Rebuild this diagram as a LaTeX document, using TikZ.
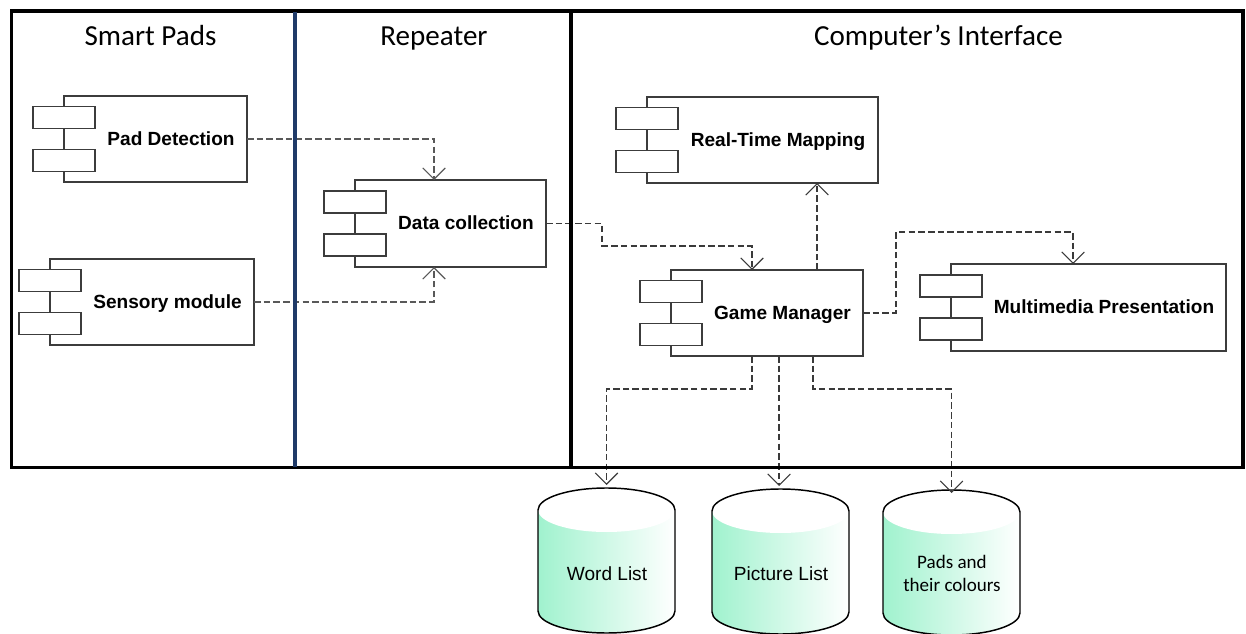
\documentclass[tikz,border=0pt]{standalone}
\usepackage{fontspec}
\setmainfont{Carlito}
\newfontfamily\arialf{Liberation Sans}
\newfontfamily\calf{Carlito}
\usetikzlibrary{calc,arrows.meta}

\definecolor{compline}{HTML}{3C3C3C}
\definecolor{laneblue}{HTML}{1F3A68}
\definecolor{mint}{RGB}{160,242,206}
\definecolor{connline}{HTML}{3A3A3A}

\tikzset{
  compbox/.style={draw=compline, line width=0.9pt, fill=white, inner sep=0pt, outer sep=0pt},
  comptext/.style={font=\arialf\bfseries\fontsize{14.3}{17}\selectfont, inner sep=0pt, anchor=base},
  lanetitle/.style={font=\calf\fontsize{21.8}{26}\selectfont, inner sep=0pt, anchor=base},
  conn/.style={draw=connline, line width=0.8pt, dash pattern=on 4.9pt off 2.4pt,
    -{Straight Barb[length=8.5pt,width=17pt,line width=0.8pt]}},
  storefill/.style={left color=mint, right color=white},
  storeline/.style={draw=black, line width=1.1pt},
  storetext/.style={font=\arialf\fontsize{14.3}{17}\selectfont, inner sep=0pt},
  frameline/.style={draw=black, line width=2.6pt},
}

% UML-style component: box, two port tabs on the left edge, centred label
\newcommand{\component}[6]{% name, cx, cy, width, height, label
  \node[compbox, minimum width={#4*0.75pt}, minimum height={#5*0.75pt}] (#1) at (#2,#3) {};
  \draw[compbox] ($(#1.west)+(-31,-32.5)$) rectangle ($(#1.west)+(31,-10.5)$);
  \draw[compbox] ($(#1.west)+(31,10.5)$) rectangle ($(#1.west)+(-31,32.5)$);
  \node[comptext] (#1-t) at ($(#1.center)+(15.5,6.5)$) {#6};
}

% Data store drawn as a shaded cylinder
\newcommand{\datastore}[3]{% name, centre x, top y
  \coordinate (#1-top) at (#2,#3);
  \shade[storefill] ($(#1-top)+(-68.5,22)$) -- ++(0,101)
    arc[start angle=180,end angle=360,x radius=51.375pt,y radius=16.5pt]
    -- ++(0,-101)
    arc[start angle=0,end angle=180,x radius=51.375pt,y radius=16.5pt] -- cycle;
  \fill[white] ($(#1-top)+(0,22)$) ellipse[x radius=51.375pt,y radius=16.5pt];
  \draw[storeline] ($(#1-top)+(-68.5,22)$) -- ++(0,101)
    arc[start angle=180,end angle=360,x radius=51.375pt,y radius=16.5pt]
    -- ++(0,-101)
    arc[start angle=0,end angle=180,x radius=51.375pt,y radius=16.5pt] -- cycle;
}

\begin{document}
\begin{tikzpicture}[x=0.75pt,y=-0.75pt]
\useasboundingbox (0,0) rectangle (1246,634);

% lane titles
\node[lanetitle] (t-pads) at (150.5,46) {Smart Pads};
\node[lanetitle] (t-rep) at (434,46) {Repeater};
\node[lanetitle] (t-pc) at (938.5,46) {Computer’s Interface};

% components
\component{pd}{155.5}{139}{183}{86}{Pad Detection}
\component{sm}{152}{302}{204}{86}{Sensory module}
\component{dc}{450.5}{223.5}{191}{87}{Data collection}
\component{rtm}{762.5}{140}{231}{86}{Real-Time Mapping}
\component{gm}{767}{313}{192}{86}{Game Manager}
\component{mp}{1088.5}{307.5}{275}{87}{Multimedia Presentation}

% data stores
\datastore{wl}{606.5}{488}
\datastore{pl}{780.5}{489}
\datastore{pc}{951.5}{490}
\node[storetext, anchor=base] (wl-t) at (607,580) {Word List};
\node[storetext, anchor=base] (pl-t) at (781,580) {Picture List};
\node[storetext, font=\calf\fontsize{14.3}{17.25}\selectfont, align=center] (pc-t) at (952,573) {Pads and\\their colours};

% dependencies
\draw[conn, draw=black!65] (pd.east) -| ($(dc.north)+(-16.5,0)$);
\draw[conn, draw=black!65] (sm.east) -| ($(dc.south)+(-16.5,0)$);
\draw[conn] (dc.east) -- ++(56,0) |- ($(gm.north)+(-15,-24)$) -- ($(gm.north)+(-15,0)$);
\coordinate (gm-up) at ($(gm.north)+(50,0)$);
\draw[conn] (gm-up) -- (gm-up |- rtm.south);
\draw[conn] (gm.east) -- ++(33,0) |- ($(mp.north)+(-15.5,-32)$) -- ($(mp.north)+(-15.5,0)$);
\coordinate (gm-o1) at ($(gm.south)+(-15,0)$);
\coordinate (gm-o2) at ($(gm.south)+(12,0)$);
\coordinate (gm-o3) at ($(gm.south)+(46,0)$);
\draw[conn] (gm-o1) -- ++(0,33) -| ($(wl-top)+(0,-3)$);
\draw[conn] (gm-o2) -- ($(gm-o2 |- pl-top)+(0,-3)$);
\draw[conn] (gm-o3) -- ++(0,33) -| ($(pc-top)+(0,3)$);

% swimlane frame
\draw[frameline] (11.5,11) rectangle (1243,467.5);
\draw[frameline] (571,11) -- (571,467.5);
\draw[draw=laneblue, line width=2.5pt] (295,12) -- (295,466.5);
\end{tikzpicture}
\end{document}
